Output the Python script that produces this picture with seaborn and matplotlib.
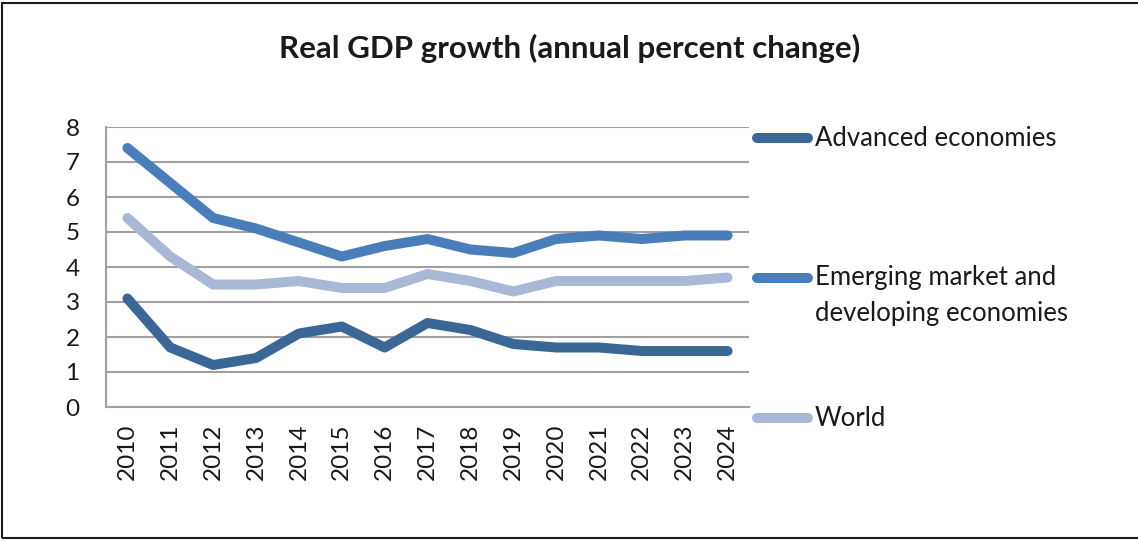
import matplotlib
matplotlib.use("Agg")
import matplotlib.pyplot as plt
from matplotlib.lines import Line2D
from matplotlib.patches import Rectangle
import pandas as pd
import seaborn as sns

years = list(range(2010, 2025))
advanced = [3.1, 1.7, 1.2, 1.4, 2.1, 2.3, 1.7, 2.4, 2.2, 1.8, 1.7, 1.7, 1.6, 1.6, 1.6]
emerging = [7.4, 6.4, 5.4, 5.1, 4.7, 4.3, 4.6, 4.8, 4.5, 4.4, 4.8, 4.9, 4.8, 4.9, 4.9]
world = [5.4, 4.3, 3.5, 3.5, 3.6, 3.4, 3.4, 3.8, 3.6, 3.3, 3.6, 3.6, 3.6, 3.6, 3.7]

series_names = ["Advanced economies",
                "Emerging market and\ndeveloping economies",
                "World"]
series_colors = ["#3B6797", "#4A7EBB", "#A8B8D6"]

df = pd.concat([
    pd.DataFrame({"year": years, "growth": vals, "series": name})
    for name, vals in zip(series_names, [advanced, emerging, world])
], ignore_index=True)

sns.set_theme(style="white")
plt.rcParams["font.family"] = ["Lato", "DejaVu Sans"]

W, H = 1138, 541
TEXT = "#1a1a1a"
fig = plt.figure(figsize=(W / 100, H / 100), dpi=100)
ax = fig.add_axes([106 / W, 1 - 407 / H, (749 - 106) / W, (407 - 127) / H])

palette = dict(zip(series_names, series_colors))
sns.lineplot(data=df, x="year", y="growth", hue="series", palette=palette,
             linewidth=7.2, ax=ax, legend=False, solid_capstyle="round",
             solid_joinstyle="round", zorder=3)

ax.set_xlim(years[0] - 0.5, years[-1] + 0.5)
ax.set_ylim(0, 8)
ax.set_xticks(years)
ax.set_xticklabels([str(y) for y in years], rotation=90)
ax.set_yticks(range(0, 9))
ax.set_xlabel("")
ax.set_ylabel("")
ax.tick_params(axis="both", length=0, labelsize=17.5, colors=TEXT)
ax.tick_params(axis="y", pad=19)
ax.tick_params(axis="x", pad=12)

ax.yaxis.grid(True, color="#A0A0A0", linewidth=1.5)
ax.xaxis.grid(False)
ax.set_axisbelow(True)
for side in ["top", "right"]:
    ax.spines[side].set_visible(False)
for side in ["left", "bottom"]:
    ax.spines[side].set_color("#A0A0A0")
    ax.spines[side].set_linewidth(1.5)

fig.text(570 / W, 1 - 48 / H, "Real GDP growth (annual percent change)",
         ha="center", va="center", fontsize=22.5, fontweight="bold",
         color=TEXT)

# Legend drawn beside the plot area: one handle per series, text lines stacked
legend_rows = [138, 278, 418]
line_gap = 35
for name, color, yy in zip(series_names, series_colors, legend_rows):
    fy = 1 - yy / H
    fig.add_artist(Line2D([757 / W, 808 / W], [fy, fy], color=color,
                          linewidth=7.2, solid_capstyle="round"))
    for i, part in enumerate(name.split("\n")):
        fig.text(815 / W, 1 - (yy + i * line_gap) / H, part, ha="left",
                 va="center", fontsize=18.5, color=TEXT)

# Outer chart frame
fig.add_artist(Rectangle((1.5 / W, 3 / H), 1.2, 1 - 6 / H,
                         transform=fig.transFigure, fill=False,
                         edgecolor=TEXT, linewidth=1.5))

fig.savefig("out.png", dpi=100)
